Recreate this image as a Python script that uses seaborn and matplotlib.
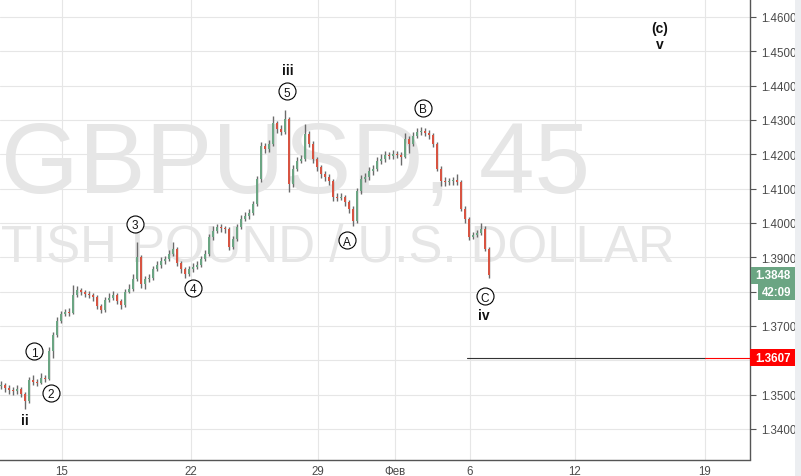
import matplotlib
matplotlib.use("Agg")
import matplotlib.pyplot as plt
import matplotlib.transforms as mtransforms
from matplotlib.patches import Rectangle
import seaborn as sns

sns.set_style("white")
plt.rcParams["font.family"] = ["Liberation Sans", "DejaVu Sans"]

# GBPUSD 45m, one candle per ~4px of the original screenshot
FIRST_OPEN = 1.3525
closes = [
    1.3528, 1.3519, 1.3513, 1.3511, 1.3516, 1.3502, 1.3481, 1.3543, 1.3537, 1.3534,
    1.3548, 1.3546, 1.3627, 1.3674, 1.3714, 1.3735, 1.3741, 1.3738, 1.3790, 1.3805,
    1.3799, 1.3793, 1.3790, 1.3784, 1.3758, 1.3747, 1.3776, 1.3781, 1.3790, 1.3773,
    1.3761, 1.3799, 1.3808, 1.3837, 1.3901, 1.3822, 1.3837, 1.3840, 1.3866, 1.3878,
    1.3889, 1.3895, 1.3910, 1.3924, 1.3883, 1.3866, 1.3851, 1.3866, 1.3872, 1.3878,
    1.3895, 1.3910, 1.3959, 1.3977, 1.3988, 1.3985, 1.3982, 1.3930, 1.3953, 1.3988,
    1.4012, 1.4020, 1.4029, 1.4055, 1.4128, 1.4224, 1.4215, 1.4230, 1.4291, 1.4274,
    1.4265, 1.4303, 1.4114, 1.4157, 1.4181, 1.4186, 1.4259, 1.4230, 1.4186, 1.4163,
    1.4143, 1.4134, 1.4122, 1.4076, 1.4073, 1.4076, 1.4061, 1.4041, 1.4006, 1.4093,
    1.4128, 1.4134, 1.4151, 1.4157, 1.4181, 1.4186, 1.4198, 1.4195, 1.4201, 1.4198,
    1.4192, 1.4245, 1.4230, 1.4253, 1.4265, 1.4268, 1.4262, 1.4256, 1.4230, 1.4157,
    1.4122, 1.4119, 1.4122, 1.4125, 1.4119, 1.4041, 1.4012, 1.3959, 1.3965, 1.3971,
    1.3982, 1.3924, 1.3848,
]
highs = [
    1.3540, 1.3535, 1.3527, 1.3522, 1.3528, 1.3521, 1.3507, 1.3552, 1.3556, 1.3545,
    1.3562, 1.3556, 1.3640, 1.3682, 1.3725, 1.3745, 1.3750, 1.3752, 1.3818, 1.3815,
    1.3812, 1.3806, 1.3802, 1.3796, 1.3790, 1.3765, 1.3785, 1.3795, 1.3802, 1.3796,
    1.3778, 1.3808, 1.3822, 1.3850, 1.3945, 1.3908, 1.3845, 1.3850, 1.3875, 1.3890,
    1.3900, 1.3905, 1.3920, 1.3945, 1.3930, 1.3890, 1.3872, 1.3875, 1.3882, 1.3890,
    1.3905, 1.3920, 1.3968, 1.3990, 1.3998, 1.3996, 1.3992, 1.3988, 1.3962, 1.3996,
    1.4022, 1.4032, 1.4040, 1.4065, 1.4138, 1.4235, 1.4232, 1.4242, 1.4312, 1.4298,
    1.4285, 1.4330, 1.4310, 1.4168, 1.4192, 1.4198, 1.4288, 1.4268, 1.4238, 1.4192,
    1.4170, 1.4150, 1.4142, 1.4128, 1.4088, 1.4086, 1.4082, 1.4068, 1.4048, 1.4102,
    1.4140, 1.4145, 1.4162, 1.4170, 1.4192, 1.4200, 1.4210, 1.4208, 1.4212, 1.4210,
    1.4206, 1.4262, 1.4252, 1.4265, 1.4278, 1.4280, 1.4276, 1.4270, 1.4262, 1.4236,
    1.4165, 1.4135, 1.4132, 1.4135, 1.4142, 1.4125, 1.4050, 1.4018, 1.3975, 1.3980,
    1.4000, 1.3990, 1.3930,
]
lows = [
    1.3515, 1.3508, 1.3502, 1.3500, 1.3503, 1.3492, 1.3458, 1.3476, 1.3528, 1.3525,
    1.3530, 1.3536, 1.3542, 1.3606, 1.3668, 1.3708, 1.3728, 1.3730, 1.3734, 1.3785,
    1.3790, 1.3785, 1.3780, 1.3772, 1.3750, 1.3738, 1.3742, 1.3770, 1.3775, 1.3765,
    1.3750, 1.3756, 1.3795, 1.3802, 1.3830, 1.3812, 1.3808, 1.3828, 1.3835, 1.3860,
    1.3870, 1.3880, 1.3888, 1.3905, 1.3875, 1.3855, 1.3840, 1.3845, 1.3858, 1.3865,
    1.3872, 1.3888, 1.3905, 1.3950, 1.3970, 1.3975, 1.3970, 1.3922, 1.3925, 1.3948,
    1.3982, 1.4005, 1.4012, 1.4022, 1.4050, 1.4120, 1.4205, 1.4208, 1.4225, 1.4262,
    1.4255, 1.4258, 1.4090, 1.4105, 1.4150, 1.4175, 1.4180, 1.4220, 1.4175, 1.4150,
    1.4132, 1.4122, 1.4110, 1.4065, 1.4064, 1.4066, 1.4050, 1.4030, 1.3990, 1.4000,
    1.4085, 1.4118, 1.4125, 1.4140, 1.4150, 1.4172, 1.4178, 1.4185, 1.4186, 1.4188,
    1.4170, 1.4188, 1.4205, 1.4225, 1.4248, 1.4255, 1.4252, 1.4245, 1.4222, 1.4150,
    1.4108, 1.4108, 1.4110, 1.4112, 1.4110, 1.4035, 1.4000, 1.3950, 1.3952, 1.3958,
    1.3965, 1.3918, 1.3840,
]
opens = [FIRST_OPEN] + closes[:-1]

date_labels = ["15", "22", "29", "Фев", "6", "12", "19"]
date_pos = [15.25, 47.4, 79.25, 98.4, 117.25, 143.5, 176.0]
price_ticks = [1.34, 1.35, 1.36, 1.37, 1.38, 1.39, 1.40, 1.41, 1.42, 1.43, 1.44, 1.45, 1.46]

# elliott wave marks
circled = [("1", 8.25, 1.3627), ("2", 12.5, 1.3505), ("3", 33.5, 1.3997),
           ("4", 48.0, 1.3811), ("5", 71.5, 1.4384), ("A", 86.5, 1.3950),
           ("B", 105.5, 1.4335), ("C", 121.0, 1.3787)]
roman = [("ii", 6.0, 1.3426), ("iii", 71.75, 1.4446), ("iv", 120.75, 1.3732),
         ("(c)", 164.75, 1.4568), ("v", 164.75, 1.4521)]

last_price = 1.3848
countdown = "42:09"
countdown_y = 1.3799
level = 1.3607

UP, DOWN, WICK = "#6ba583", "#d75442", "#6b6b6b"
W, H = 801, 477
PX = 1 / 3433  # price per pixel

fig = plt.figure(figsize=(W / 100, H / 100), dpi=100)
ax = fig.add_axes([0, 16.5 / H, 750 / W, 460.5 / H])
ax.set_xlim(-0.25, 187.25)
ax.set_ylim(1.3311, 1.46524)

# watermark
ax.text(296 / W, 1 - 193 / H, "GBPUSD, 45", transform=fig.transFigure,
        ha="center", va="baseline", fontsize=72, color="#e6e6e6", zorder=0.1)
ax.text(295 / W, 1 - 262 / H, "BRITISH POUND / U.S. DOLLAR", transform=fig.transFigure,
        ha="center", va="baseline", fontsize=36.7, color="#e6e6e6", zorder=0.1)

# candles
xs = list(range(len(closes)))
colors = [UP if c >= o else DOWN for o, c in zip(opens, closes)]
ax.vlines(xs, lows, highs, color=WICK, lw=1.0, zorder=3)
ax.bar(xs, [c - o for o, c in zip(opens, closes)], bottom=opens, width=0.7,
       color=colors, linewidth=0, zorder=4)

# horizontal level
ax.plot([116.5, 176.0], [level, level], color="#333333", lw=0.8, zorder=3)
ax.plot([176.0, 187.25], [level, level], color="#ff0000", lw=0.8, zorder=3)

# wave labels
sns.scatterplot(x=[c[1] for c in circled], y=[c[2] for c in circled], s=150,
                color="white", edgecolor="black", linewidth=0.8, ax=ax, zorder=6)
for lab, xx, yy in circled:
    ax.text(xx, yy, lab, ha="center", va="center_baseline", fontsize=8.5,
            color="#111111", zorder=7)
for lab, xx, yy in roman:
    ax.text(xx, yy, lab, ha="center", va="center", fontsize=10,
            fontweight="bold", color="#111111", zorder=7)

# axes styling
ax.grid(True, color="#e6e6e6", lw=0.8)
ax.set_axisbelow(True)
for s in ["left", "top"]:
    ax.spines[s].set_visible(False)
for s in ["right", "bottom"]:
    ax.spines[s].set_color("#555555")
    ax.spines[s].set_linewidth(1.0)
ax.yaxis.tick_right()
ax.set_yticks(price_ticks)
ax.set_yticklabels([f"{p:.4f}" for p in price_ticks])
ax.set_xticks(date_pos)
ax.set_xticklabels(date_labels)
ax.tick_params(axis="y", direction="out", length=4, pad=4, labelsize=8.3,
               colors="#555555", labelcolor="#4a4a4a")
ax.tick_params(axis="x", direction="out", length=3, pad=1, labelsize=8.3,
               colors="#555555", labelcolor="#4a4a4a")

# price tags on the right axis
tr = mtransforms.blended_transform_factory(fig.transFigure, ax.transData)


def tag(x0, x1, y, text, fc):
    fig.patches.append(Rectangle((x0 / W, y - 8.5 * PX), (x1 - x0) / W, 17 * PX,
                                 transform=tr, facecolor=fc, edgecolor="none", zorder=9))
    fig.text((x0 + x1) / 2 / W, y, text, transform=tr, ha="center", va="center",
             fontsize=8.3, fontweight="bold", color="white", zorder=10)


tag(751, 795, last_price, f"{last_price:.4f}", UP)
tag(758, 795, countdown_y, countdown, UP)
tag(750, 795, level, f"{level:.4f}", "#ff0000")

# scrollbar strip
fig.patches.append(Rectangle((795 / W, 0), 6 / W, 1, transform=fig.transFigure,
                             facecolor="#eceef1", edgecolor="none", zorder=11))

fig.savefig("out.png", dpi=100)
